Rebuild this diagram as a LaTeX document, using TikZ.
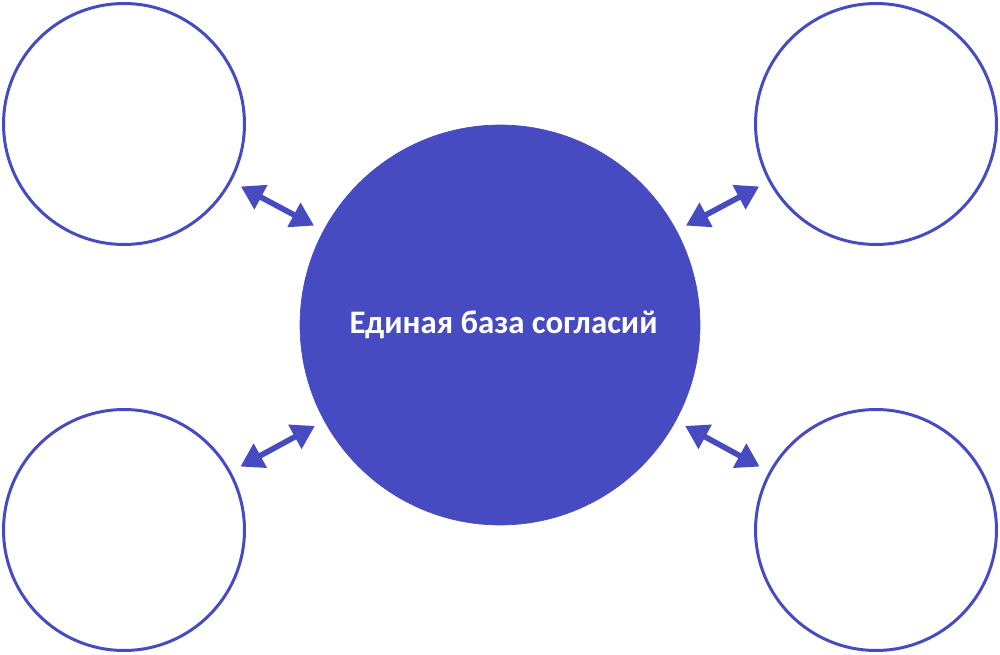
\documentclass[tikz,border=0pt]{standalone}
\usepackage{fontspec}
\setmainfont{Carlito}
\usetikzlibrary{arrows.meta}
\definecolor{consent}{RGB}{71,75,193}

\begin{document}
\begin{tikzpicture}[
    x=0.02cm, y=-0.02cm,
    hub/.style={circle, fill=consent, draw=consent, minimum size=8cm, inner sep=0pt,
                text=white, font=\fontsize{18.7}{22}\selectfont\bfseries},
    satellite/.style={circle, draw=consent, line width=1.7pt, minimum size=4.82cm, inner sep=0pt},
    % Flèche double entre le centre et les cercles
    link/.style={{Triangle[length=13pt, width=15pt]}-{Triangle[length=13pt, width=15pt]},
                 draw=consent, line width=3.2pt, shorten <=6pt, shorten >=6pt}
]
\useasboundingbox (0,0) rectangle (1000,655);

% --- CERCLE CENTRAL ---
\node[hub] (base) at (500,325) {\hspace{4pt}Единая база согласий};

% --- CERCLES AUTOUR ---
\node[satellite] (sat-tl) at (124,124) {};
\node[satellite] (sat-tr) at (876,124) {};
\node[satellite] (sat-bl) at (124,530) {};
\node[satellite] (sat-br) at (876,530) {};

% --- CONNEXIONS ---
\foreach \s in {tl,tr,bl,br}
    \draw[link] (sat-\s) -- (base);

\end{tikzpicture}
\end{document}
